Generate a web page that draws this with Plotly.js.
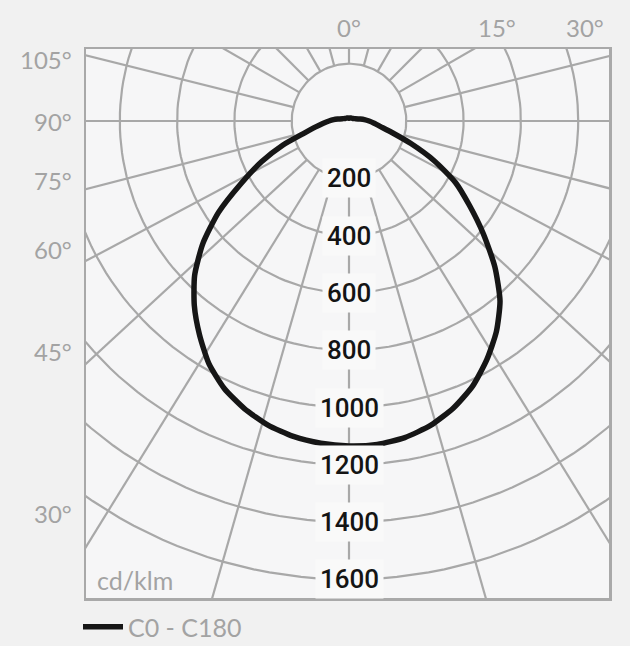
<!DOCTYPE html>
<html>
<head>
<meta charset="utf-8">
<script src="https://cdn.plot.ly/plotly-3.0.1.min.js"></script>
<style>
  html, body { margin: 0; padding: 0; background: #f1f1f1; }
  #chart { width: 630px; height: 646px; }
</style>
</head>
<body>
<div id="chart"></div>
<script>
// ---------- DATA ----------
// Gamma angles (degrees from the downward vertical)
const gammaAngles = [0, 5, 10, 15, 20, 25, 30, 35, 40, 45, 50, 55, 60, 65, 70, 75, 80, 85, 90, 95, 100, 110, 120, 135, 150, 165, 180];
// Luminous intensity, cd/klm, right half (C0) and left half (C180)
const intensityC0   = [1134, 1133, 1122, 1100, 1066, 1021, 962, 897, 820, 720, 612, 513, 429, 328, 230, 155, 112, 88, 70, 54, 40, 24, 17, 14, 12, 11, 10];
const intensityC180 = [1134, 1129, 1118, 1098, 1068, 1030, 978, 910, 840, 762, 666, 556, 434, 337, 245, 160, 118, 90, 70, 54, 40, 24, 17, 14, 12, 11, 10];
const seriesName = 'C0 - C180';

// Radial scale rings and their labels
const ringValues = [200, 400, 600, 800, 1000, 1200, 1400, 1600];
const ringLabels = ['200', '400', '600', '800', '1000', '1200', '1400', '1600'];
// Grid spokes as drawn (degrees from downward vertical, one side; mirrored)
const spokeAngles = [0, 16, 31.7, 47.3, 62, 75.5, 90, 104, 120, 135, 150, 165, 180];

// Angle labels around the frame
const leftAngleLabels = ['105°', '90°', '75°', '60°', '45°', '30°'];
const topAngleLabels = ['0°', '15°', '30°'];
const unitLabel = 'cd/klm';

// ---------- LAYOUT HELPERS ----------
const W = 630, H = 646;
const plotL = 86, plotR = 609, plotT = 49, plotB = 598;
const cx = 349, cy = 121;              // polar origin in page pixels
const pxPerUnit = 57.3 / 200;          // pixels per cd/klm
const xRange = [(plotL - cx) / pxPerUnit, (plotR - cx) / pxPerUnit];
const yRange = [-(plotB - cy) / pxPerUnit, (cy - plotT) / pxPerUnit];
const px = x => (x - plotL) / (plotR - plotL);
const py = y => (plotB - y) / (plotB - plotT);
const rad = d => d * Math.PI / 180;

const gridColor = '#a8a8a8';
const traces = [];

// rings
ringValues.forEach(v => {
  const xs = [], ys = [];
  for (let a = 0; a <= 360; a += 2) { xs.push(v * Math.sin(rad(a))); ys.push(-v * Math.cos(rad(a))); }
  traces.push({type: 'scatter', mode: 'lines', x: xs, y: ys, line: {color: gridColor, width: 2.2}, showlegend: false, hoverinfo: 'skip'});
});
// spokes (from innermost ring outward, clipped by the frame)
const rIn = ringValues[0], rOut = 4000;
[...spokeAngles, ...spokeAngles.filter(a => a > 0 && a < 180).map(a => -a)].forEach(a => {
  traces.push({type: 'scatter', mode: 'lines',
    x: [rIn * Math.sin(rad(a)), rOut * Math.sin(rad(a))],
    y: [-rIn * Math.cos(rad(a)), -rOut * Math.cos(rad(a))],
    line: {color: gridColor, width: 2.2}, showlegend: false, hoverinfo: 'skip'});
});

// intensity curve: starts at the top, runs down the left (C180), back up the right (C0)
const cxs = [], cys = [];
for (let i = gammaAngles.length - 1; i >= 0; i--) {
  const g = gammaAngles[i];
  cxs.push(-intensityC180[i] * Math.sin(rad(g))); cys.push(-intensityC180[i] * Math.cos(rad(g)));
}
gammaAngles.forEach((g, i) => {
  if (i === 0) return;
  cxs.push(intensityC0[i] * Math.sin(rad(g))); cys.push(-intensityC0[i] * Math.cos(rad(g)));
});
traces.push({type: 'scatter', mode: 'lines', x: cxs, y: cys, name: seriesName,
  line: {color: '#161616', width: 5.5, shape: 'spline', smoothing: 0.6}, hoverinfo: 'skip'});

// ---------- ANNOTATIONS ----------
const annotations = [];
ringValues.forEach((v, i) => annotations.push({
  x: 0, y: -v, xref: 'x', yref: 'y', text: ringLabels[i], showarrow: false,
  font: {family: 'Roboto, Liberation Sans, Arial, sans-serif', size: 26, weight: 500, color: '#141414'},
  bgcolor: '#f9f9f9', borderpad: 4
}));
const leftY = [60, 121, 180, 250, 352, 513];
leftAngleLabels.forEach((t, i) => annotations.push({
  x: px(74), y: py(leftY[i]), xref: 'paper', yref: 'paper', xanchor: 'right', yanchor: 'middle',
  text: t, showarrow: false, font: {family: 'Lato, sans-serif', size: 24, color: '#a3a3a3'}
}));
const topX = [349, 497, 585];
topAngleLabels.forEach((t, i) => annotations.push({
  x: px(topX[i]), y: py(27), xref: 'paper', yref: 'paper', xanchor: 'center', yanchor: 'middle',
  text: t, showarrow: false, font: {family: 'Lato, sans-serif', size: 24, color: '#a3a3a3'}
}));
annotations.push({
  x: px(95), y: py(580), xref: 'paper', yref: 'paper', xanchor: 'left', yanchor: 'middle',
  text: unitLabel, showarrow: false, font: {family: 'Lato, sans-serif', size: 25, color: '#a3a3a3'}
});

const layout = {
  width: W, height: H,
  margin: {l: plotL, r: W - plotR, t: plotT, b: H - plotB, pad: 0, autoexpand: false},
  paper_bgcolor: '#f1f1f1', plot_bgcolor: '#f6f6f7',
  xaxis: {range: xRange, showgrid: false, zeroline: false, showticklabels: false, ticks: '',
          showline: true, mirror: true, linecolor: '#a9a9a9', linewidth: 2.5, fixedrange: true},
  yaxis: {range: yRange, showgrid: false, zeroline: false, showticklabels: false, ticks: '',
          showline: true, mirror: true, linecolor: '#a9a9a9', linewidth: 2.5, fixedrange: true},
  showlegend: true,
  legend: {x: px(78), y: py(627), xanchor: 'left', yanchor: 'middle', orientation: 'h',
           bgcolor: 'rgba(0,0,0,0)', font: {family: 'Lato, sans-serif', size: 25, color: '#a3a3a3'},
           itemwidth: 40, tracegroupgap: 0},
  annotations: annotations
};

Plotly.newPlot('chart', traces, layout, {displayModeBar: false, staticPlot: true});
</script>
</body>
</html>
